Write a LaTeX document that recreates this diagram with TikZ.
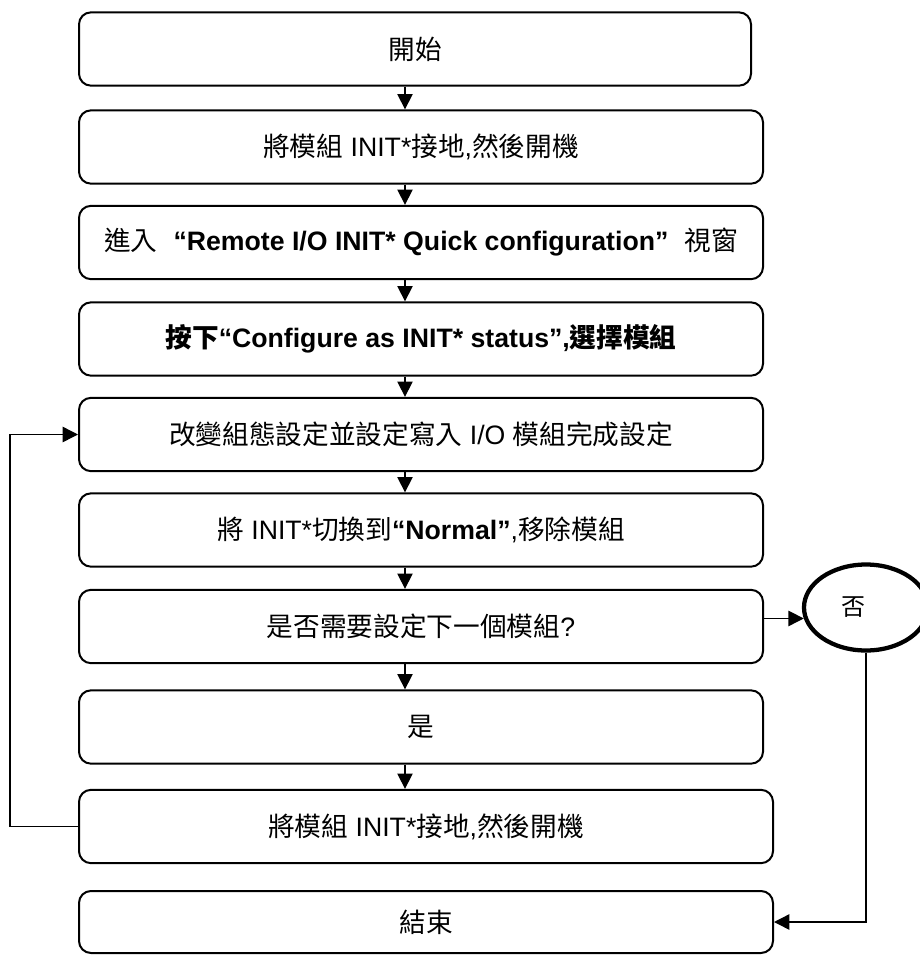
\documentclass[tikz,border=0pt]{standalone}
\usepackage{fontspec}
\setmainfont{Liberation Sans}
\newfontfamily\cjk{Noto Sans CJK TC}
\newcommand{\zhtc}[1]{{\cjk #1}}
\usetikzlibrary{arrows.meta}
\usetikzlibrary{shapes.geometric}

\begin{document}
\begin{tikzpicture}[x=0.75pt,y=-0.75pt,
  stepbox/.style={draw,line width=1.5pt,rounded corners=9pt,minimum width=513pt,minimum height=55pt,inner sep=0pt,font=\fontsize{20}{24}\selectfont},
  flow/.style={line width=1.1pt,-{Triangle[length=11.5pt,width=11.5pt]}}]
\useasboundingbox (0,0) rectangle (920,958);
\node[stepbox,minimum width=504pt] (start) at (415,49) {\zhtc{開始}};
\node[stepbox] (b2) at (421,147) {\zhtc{將模組} INIT*\zhtc{接地},\zhtc{然後開機}};
\node[stepbox] (b3) at (421,242.5) {\zhtc{進入}\hspace{0.6em}\textbf{“Remote I/O INIT* Quick configuration”}\hspace{0.6em}\zhtc{視窗}};
\node[stepbox] (b4) at (421,339) {\textbf{\zhtc{按下}“Configure as INIT* status”,\zhtc{選擇模組}}};
\node[stepbox] (b5) at (421,434.5) {\zhtc{改變組態設定並設定寫入} I/O \zhtc{模組完成設定}};
\node[stepbox] (b6) at (421,530) {\zhtc{將} INIT*\zhtc{切換到}\textbf{“Normal”},\zhtc{移除模組}};
\node[stepbox] (b7) at (421,626.5) {\zhtc{是否需要設定下一個模組}?};
\node[stepbox] (b8) at (421,727) {\zhtc{是}};
\node[stepbox,minimum width=520.5pt] (b9) at (426,826.5) {\zhtc{將模組} INIT*\zhtc{接地},\zhtc{然後開機}};
\node[stepbox,minimum width=520.5pt,minimum height=46.5pt] (stop) at (426,922) {\zhtc{結束}};
\node[draw,ellipse,line width=3.2pt,minimum width=93pt,minimum height=64.5pt,font=\fontsize{18}{20}\selectfont] (no) at (866,607.5) {\raisebox{-3pt}{\zhtc{否}}\kern19pt};

% main flow
\coordinate (ax) at (405,0);
\coordinate (loopx) at (10,0);
\foreach \a/\b in {start/b2,b2/b3,b3/b4,b4/b5,b5/b6,b6/b7,b7/b8,b8/b9}
  \draw[flow] (\a.south -| ax) -- (\b.north -| ax);
% branches
\draw[flow] (b7.east |- no.190) -- (no.190);
\draw[flow] (no.south) |- (stop.east);
\draw[flow] (b9.west) -- (b9.west -| loopx) |- (b5.west);
\end{tikzpicture}
\end{document}
